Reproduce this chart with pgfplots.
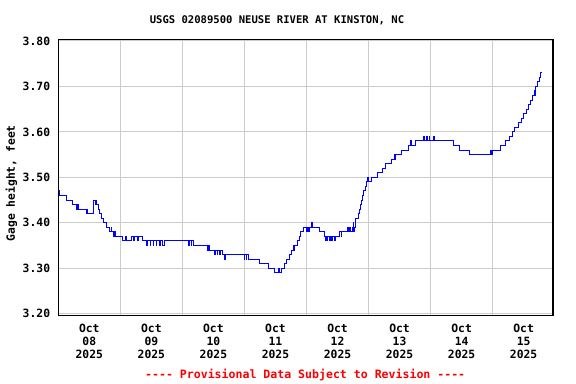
\documentclass[border=0pt]{standalone}
\usepackage{fontspec}
\setmainfont{DejaVu Sans Mono}[Ligatures=TeXOff]
\usepackage{pgfplots}
\pgfplotsset{compat=1.18}
\usepackage{pgfplotstable}
\definecolor{gridgray}{RGB}{204,204,204}
\pgfplotstableread{
d v
0 3.47
0.012 3.46
0.129 3.45
0.226 3.44
0.300 3.43
0.308 3.44
0.332 3.43
0.452 3.42
0.470 3.43
0.478 3.42
0.574 3.45
0.600 3.44
0.606 3.45
0.623 3.44
0.645 3.43
0.672 3.42
0.698 3.41
0.726 3.40
0.775 3.39
0.830 3.38
0.850 3.39
0.860 3.38
0.890 3.37
0.900 3.38
0.915 3.37
1.042 3.36
1.090 3.37
1.100 3.36
1.177 3.37
1.220 3.36
1.230 3.37
1.280 3.36
1.290 3.37
1.365 3.36
1.419 3.35
1.430 3.36
1.480 3.35
1.490 3.36
1.530 3.35
1.540 3.36
1.580 3.35
1.590 3.36
1.630 3.35
1.640 3.36
1.680 3.35
1.715 3.36
2.106 3.35
2.116 3.36
2.140 3.35
2.150 3.36
2.182 3.35
2.403 3.34
2.415 3.35
2.429 3.34
2.521 3.33
2.530 3.34
2.560 3.33
2.570 3.34
2.600 3.33
2.610 3.34
2.645 3.33
2.680 3.32
2.690 3.33
2.994 3.32
3.000 3.33
3.030 3.32
3.040 3.33
3.069 3.32
3.235 3.31
3.381 3.30
3.489 3.29
3.550 3.30
3.560 3.29
3.597 3.30
3.650 3.31
3.685 3.32
3.720 3.33
3.760 3.34
3.790 3.35
3.800 3.34
3.811 3.35
3.855 3.36
3.892 3.37
3.908 3.38
3.945 3.39
4.000 3.38
4.010 3.39
4.040 3.38
4.050 3.39
4.080 3.40
4.100 3.39
4.215 3.38
4.295 3.37
4.300 3.36
4.310 3.37
4.330 3.36
4.340 3.37
4.370 3.36
4.380 3.37
4.410 3.36
4.420 3.37
4.450 3.36
4.460 3.37
4.537 3.38
4.560 3.37
4.570 3.38
4.660 3.39
4.670 3.38
4.700 3.39
4.710 3.38
4.740 3.39
4.750 3.40
4.760 3.38
4.780 3.39
4.795 3.41
4.832 3.42
4.852 3.43
4.876 3.44
4.892 3.45
4.903 3.46
4.924 3.47
4.945 3.48
4.968 3.49
4.990 3.50
5.000 3.49
5.040 3.50
5.139 3.51
5.219 3.52
5.279 3.53
5.371 3.54
5.413 3.55
5.430 3.54
5.440 3.55
5.532 3.56
5.639 3.57
5.680 3.58
5.690 3.57
5.763 3.58
5.892 3.59
5.900 3.58
5.940 3.59
5.950 3.58
5.980 3.59
5.990 3.58
6.050 3.59
6.060 3.58
6.365 3.57
6.461 3.56
6.634 3.55
6.965 3.56
6.975 3.55
6.994 3.56
7.129 3.57
7.210 3.58
7.268 3.59
7.323 3.60
7.360 3.61
7.413 3.62
7.468 3.63
7.505 3.64
7.548 3.65
7.574 3.66
7.613 3.67
7.639 3.68
7.671 3.69
7.680 3.68
7.690 3.69
7.698 3.70
7.726 3.71
7.752 3.72
7.774 3.73
7.795 3.73
}\gage
\begin{document}
\begin{tikzpicture}
\path[use as bounding box] (-58.3bp,-68.3bp) rectangle (517.7bp,315.7bp);
\begin{axis}[
  at={(0,0)}, anchor=south west,
  scale only axis, width=494.7bp, height=276.4bp,
  xmin=0, xmax=7.973, ymin=3.1956, ymax=3.8037,
  xtick={0.5,1.5,2.5,3.5,4.5,5.5,6.5,7.5},
  xticklabels={{Oct\\08\\2025},{Oct\\09\\2025},{Oct\\10\\2025},{Oct\\11\\2025},{Oct\\12\\2025},{Oct\\13\\2025},{Oct\\14\\2025},{Oct\\15\\2025}},
  minor xtick={1,2,3,4,5,6,7},
  xminorgrids=true, xmajorgrids=false, ymajorgrids=true,
  ytick={3.2,3.3,3.4,3.5,3.6,3.7,3.8},
  major tick length=0pt, minor tick length=0pt,
  grid style={gridgray, line width=1bp},
  minor grid style={gridgray, line width=1bp},
  axis line style={black, line width=1.4bp},
  /pgf/number format/assume math mode=true,
  yticklabel style={/pgf/number format/.cd, fixed, fixed zerofill, precision=2, /tikz/.cd,
    font=\fontsize{11.4}{13}\selectfont\bfseries, inner sep=0pt, xshift=-8bp},
  xticklabel style={align=center, font=\fontsize{11.4}{13}\selectfont\bfseries, inner sep=0pt, yshift=-8.5bp},
]
\addplot[const plot, blue, line width=1bp] table[x=d, y=v] {\gage};
\end{axis}
\node[font=\fontsize{10.6}{12}\selectfont\bfseries] at (218.7bp,295.2bp) {USGS 02089500 NEUSE RIVER AT KINSTON, NC};
\node[font=\fontsize{11.4}{13}\selectfont\bfseries, rotate=90] at (-46.8bp,132.4bp) {Gage height, feet};
\node[font=\fontsize{11.6}{13}\selectfont\bfseries, text=red] at (246.9bp,-59.3bp) {---- Provisional Data Subject to Revision ----};
\end{tikzpicture}
\end{document}
